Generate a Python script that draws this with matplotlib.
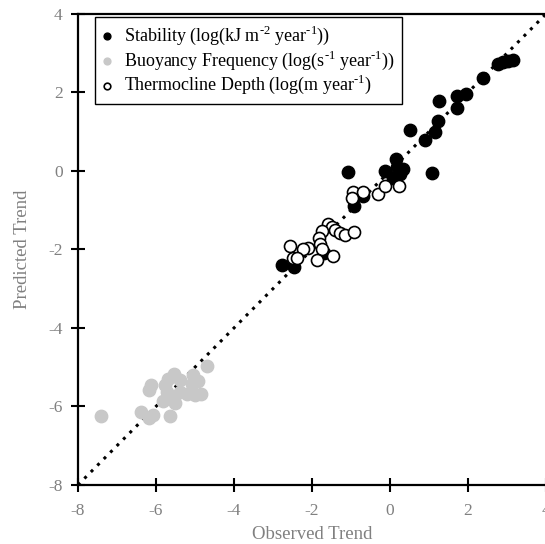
import numpy as np
import matplotlib
matplotlib.use('Agg')
import matplotlib.pyplot as plt

plt.rcParams['font.family'] = ['Liberation Serif', 'DejaVu Serif']
plt.rcParams['mathtext.fontset'] = 'custom'
plt.rcParams['mathtext.rm'] = 'Liberation Serif'
plt.rcParams['axes.unicode_minus'] = False

# stability (black)
stab_obs = [2.77, 2.9, 3.03, 3.15, 2.38, 1.95, 1.72, 1.72, 1.26, 1.23, 1.15, 0.9, 0.51,
            0.15, 0.33, -0.13, -1.08, 1.08, 0.08, 0.18, 0.26, -0.92, -0.7, -2.77, -2.46, -1.69]
stab_pred = [2.72, 2.77, 2.8, 2.83, 2.36, 1.97, 1.9, 1.6, 1.77, 1.28, 1.0, 0.79, 1.05,
             0.31, 0.05, 0.0, -0.03, -0.05, -0.18, 0.1, -0.08, -0.9, -0.65, -2.4, -2.45, -2.1]

# buoyancy frequency (grey)
buoy_obs = [-7.41, -6.38, -6.18, -6.08, -5.64, -6.18, -6.13, -5.77, -5.69, -5.54, -5.38,
            -5.72, -5.82, -5.64, -5.51, -5.38, -5.21, -5.0, -4.85, -5.08, -4.92, -5.05, -4.69]
buoy_pred = [-6.25, -6.15, -6.3, -6.23, -6.25, -5.59, -5.46, -5.46, -5.31, -5.18, -5.33,
             -5.64, -5.85, -5.77, -5.92, -5.64, -5.69, -5.72, -5.67, -5.44, -5.36, -5.21, -4.97]

# thermocline depth (open)
therm_obs = [-0.95, -0.69, -0.97, -0.31, -0.13, 0.23, -1.59, -1.49, -1.41, -1.28, -1.15,
             -0.92, -1.74, -1.82, -1.79, -1.74, -1.46, -1.87, -2.1, -2.23, -2.56, -2.49, -2.38]
therm_pred = [-0.54, -0.54, -0.69, -0.59, -0.38, -0.38, -1.36, -1.44, -1.51, -1.59, -1.62,
              -1.56, -1.54, -1.72, -1.85, -2.0, -2.18, -2.28, -1.97, -2.0, -1.92, -2.23, -2.23]

fig = plt.figure(figsize=(5.45, 5.44), dpi=100)
ax = fig.add_axes([0.143, 0.1085, 0.859, 0.866])

grey = '#808080'
ax.plot([-8, 4], [-8, 4], color='black', linestyle=(0, (1, 2)), linewidth=2.2, zorder=1)

ax.scatter(stab_obs, stab_pred, s=80, color='black', zorder=3,
           label=r'Stability (log(kJ m$^{\text{-2}}$ year$^{\text{-1}}$))')
ax.scatter(buoy_obs, buoy_pred, s=80, color='#c8c8c8', zorder=2,
           label=r'Buoyancy Frequency (log(s$^{\text{-1}}$ year$^{\text{-1}}$))')
ax.scatter(therm_obs, therm_pred, s=75, facecolor='white', edgecolor='black',
           linewidth=1.2, zorder=4, label=r'Thermocline Depth (log(m year$^{\text{-1}}$)')

ax.set_xlim(-8, 4)
ax.set_ylim(-8, 4)
ax.set_xticks(np.arange(-8, 5, 2))
ax.set_yticks(np.arange(-8, 5, 2))

for s in ['left', 'bottom', 'top', 'right']:
    ax.spines[s].set_linewidth(1.6)

ax.tick_params(direction='inout', length=10, width=1.5, labelsize=12.5,
               labelcolor=grey, pad=6)
ax.tick_params(axis='x', pad=8)
ax.set_xlabel('Observed Trend', fontsize=13.5, color=grey, labelpad=5)
ax.set_ylabel('Predicted Trend', fontsize=13.5, color=grey, labelpad=12)

leg = ax.legend(loc='upper left', bbox_to_anchor=(0.036, 0.994), fontsize=13,
                fancybox=False, edgecolor='black', framealpha=1, handletextpad=0.6,
                borderpad=0.4, labelspacing=0.08, markerscale=0.55, handlelength=0.6,
                borderaxespad=0)
leg.get_frame().set_linewidth(1.0)

plt.savefig('out.png', dpi=100)
